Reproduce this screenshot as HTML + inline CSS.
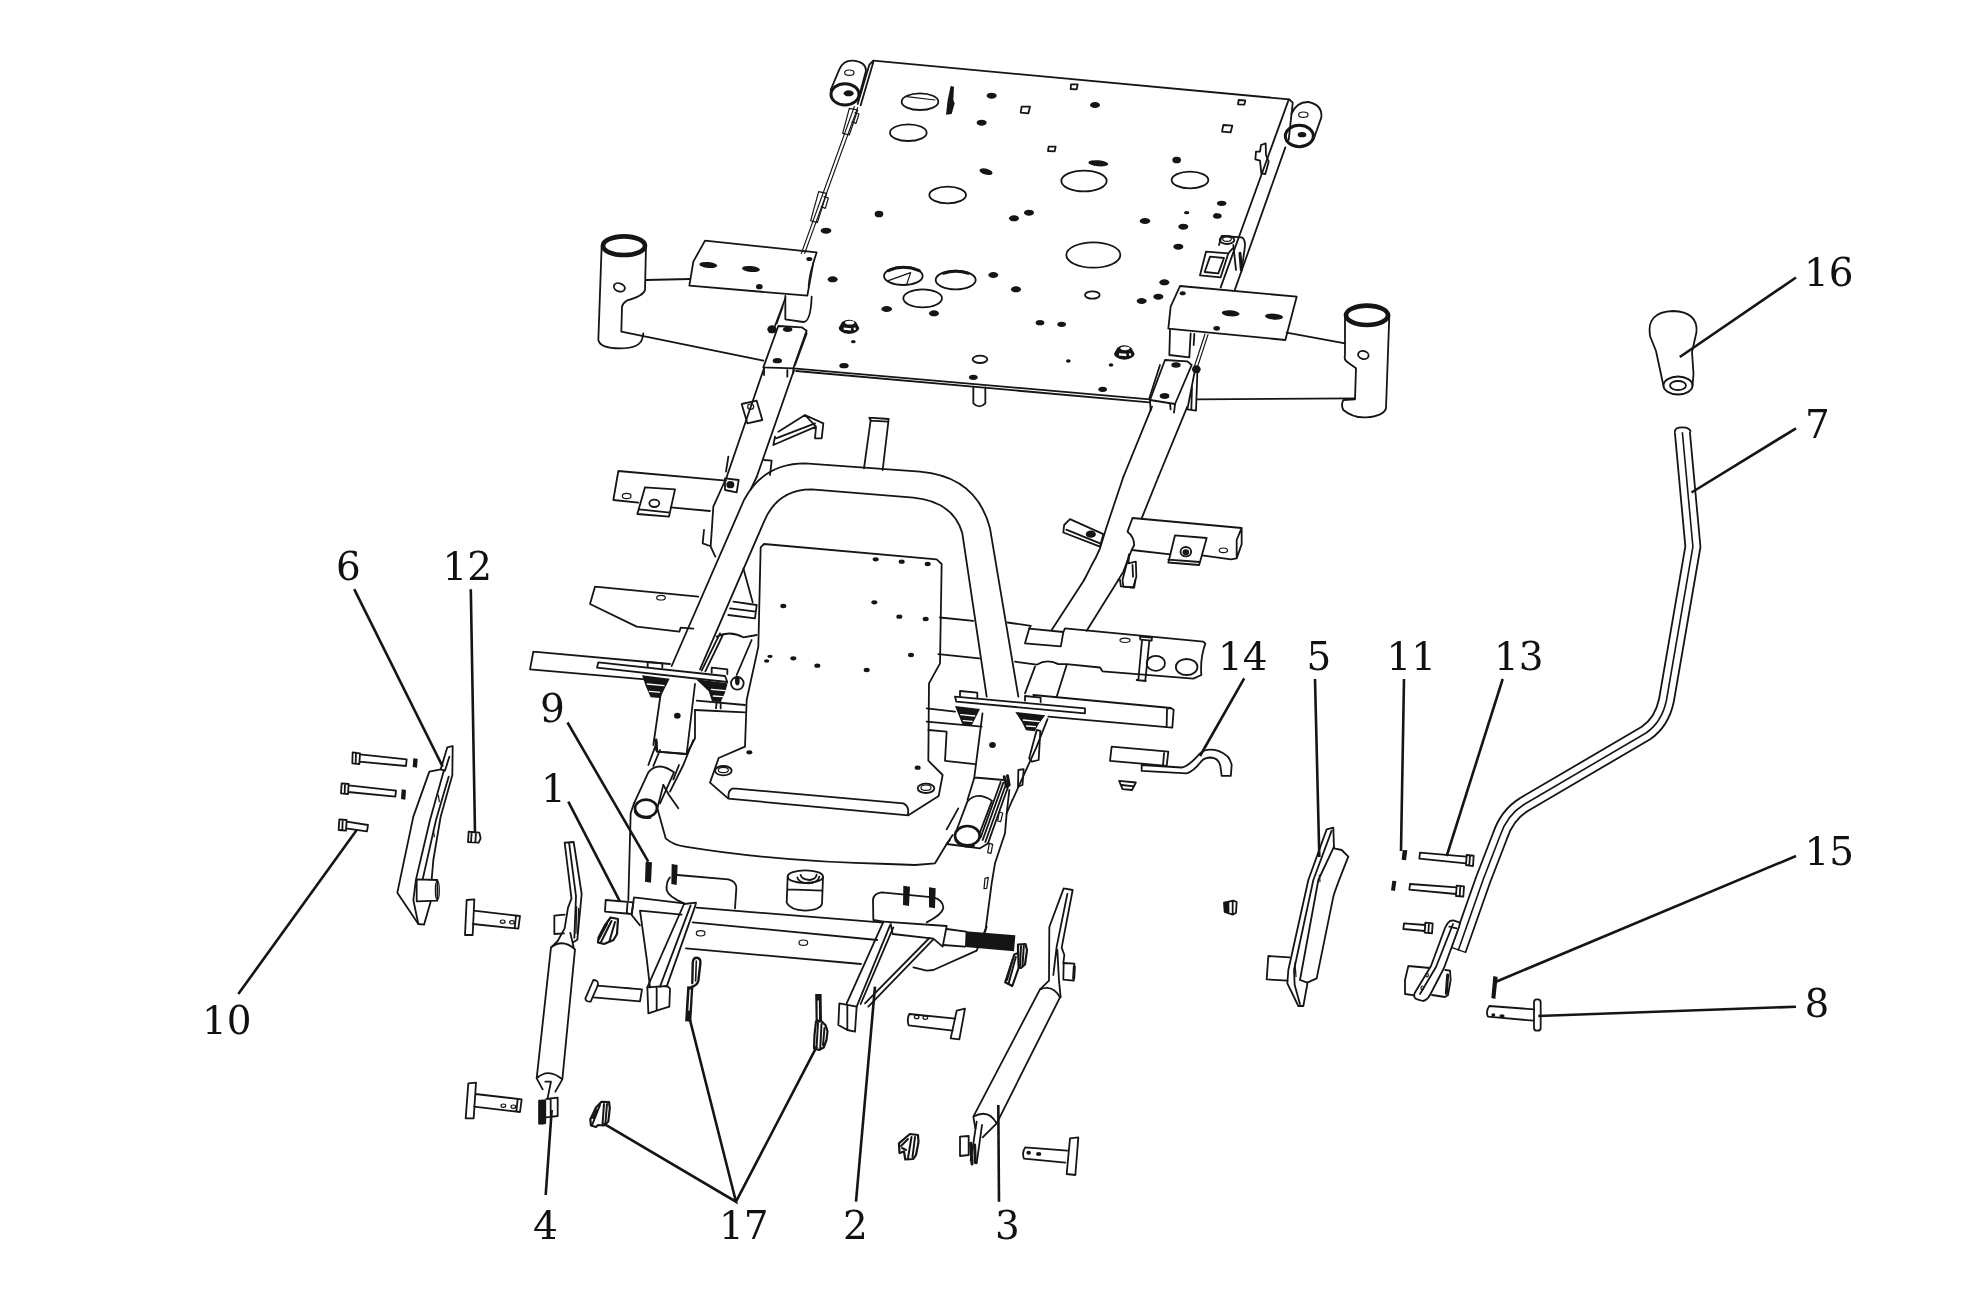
<!DOCTYPE html>
<html><head><meta charset="utf-8"><title>Frame assembly diagram</title>
<style>
html,body{margin:0;padding:0;background:#fff}
svg{display:block;will-change:transform;transform:translateZ(0)}
.l{fill:none;stroke:#151515;stroke-linecap:round;stroke-linejoin:round}
.f{fill:#151515;stroke:none}
.w{fill:#fff;stroke:#151515;stroke-linejoin:round}
.t{font-family:"DejaVu Serif","Liberation Serif",serif;font-size:39px;fill:#111}
.ld{stroke:#151515;stroke-width:2.6;fill:none;stroke-linecap:butt}
g.z3{stroke-width:5.4}
g.z3 .k{stroke-width:9}
g.z3 .n{stroke-width:3.6}
g.z6{stroke-width:10.8}
g.z6 .k{stroke-width:18}
g.z6 .n{stroke-width:7}
</style></head><body>
<svg width="1968" height="1312" viewBox="0 0 1968 1312">
<rect width="1968" height="1312" fill="#fff"/>
<!-- region A: top plate left/centre, left wing -->
<g class="z3 l" transform="translate(560,40) scale(0.333333)">
<!-- plate top edge (to far right corner) -->
<path d="M940,62 L2187,178"/>
<!-- left edge rod -->
<path d="M940,62 L928,74 L893,192 M940,66 L902,196"/>
<path class="n" d="M883,200 L724,640 M893,203 L734,640"/>
<path class="n" d="M868,205 L893,210 L868,285 L848,280 Z M885,218 L897,222 L888,250 L876,246"/>
<path class="n" d="M776,455 L800,460 L772,548 L752,542 Z M792,470 L805,474 L796,505 L784,500"/>
<!-- bushing top-left -->
<path d="M812,150 L838,88 Q850,60 880,62 Q918,66 918,92 L897,170"/>
<ellipse class="k" cx="855" cy="163" rx="42" ry="32"/>
<ellipse class="f" cx="866" cy="160" rx="15" ry="9"/>
<ellipse class="n" cx="868" cy="98" rx="14" ry="8"/>
<!-- big holes -->
<ellipse cx="1080" cy="185" rx="55" ry="25"/><path class="n" d="M1040,170 L1125,180"/>
<ellipse cx="1045" cy="278" rx="55" ry="25"/>
<ellipse cx="1163" cy="465" rx="55" ry="25"/>
<ellipse cx="1572" cy="423" rx="68" ry="31"/>
<ellipse cx="1890" cy="420" rx="55" ry="25"/>
<ellipse cx="1600" cy="645" rx="81" ry="38"/>
<ellipse cx="1030" cy="708" rx="58" ry="27"/><path class="k" d="M985,692 Q1030,672 1078,692"/><path class="n" d="M985,722 L1052,698 L1040,733"/>
<ellipse cx="1187" cy="720" rx="60" ry="28"/><path class="k" d="M1150,700 Q1187,688 1225,700"/>
<ellipse cx="1088" cy="775" rx="58" ry="27"/>
<ellipse cx="1597" cy="765" rx="22" ry="11"/>
<ellipse cx="1260" cy="958" rx="22" ry="11"/>
<!-- slot sliver -->
<path class="f" d="M1172,138 L1182,140 L1180,180 L1184,190 L1175,222 L1158,224 L1163,180 Z"/>
<!-- small square holes -->
<path d="M1533,133 L1553,133 L1550,148 L1532,147 Z M1385,200 L1410,200 L1405,220 L1382,218 Z M1466,320 L1487,320 L1484,334 L1464,333 Z"/>
<!-- dots -->
<g class="f">
<ellipse cx="1295" cy="167" rx="15" ry="9"/><ellipse cx="1265" cy="248" rx="15" ry="9"/><ellipse cx="1605" cy="195" rx="15" ry="9"/>
<ellipse cx="1278" cy="395" rx="20" ry="9" transform="rotate(15 1278 395)"/><ellipse cx="1615" cy="370" rx="30" ry="9" transform="rotate(5 1615 370)"/>
<ellipse cx="1850" cy="360" rx="13" ry="10"/><ellipse cx="957" cy="522" rx="13" ry="10"/><ellipse cx="798" cy="572" rx="16" ry="9"/>
<ellipse cx="1362" cy="535" rx="15" ry="9"/><ellipse cx="1407" cy="518" rx="15" ry="9"/><ellipse cx="1755" cy="543" rx="16" ry="9"/>
<ellipse cx="1870" cy="560" rx="15" ry="9"/><ellipse cx="1880" cy="518" rx="8" ry="5"/><ellipse cx="1855" cy="620" rx="15" ry="9"/>
<ellipse cx="818" cy="718" rx="15" ry="9"/><ellipse cx="1300" cy="705" rx="15" ry="9"/><ellipse cx="1368" cy="748" rx="15" ry="9"/>
<ellipse cx="1813" cy="727" rx="15" ry="9"/><ellipse cx="1795" cy="770" rx="15" ry="9"/><ellipse cx="1745" cy="783" rx="15" ry="9"/>
<ellipse cx="980" cy="807" rx="16" ry="9"/><ellipse cx="1122" cy="820" rx="15" ry="9"/><ellipse cx="1440" cy="848" rx="13" ry="8"/>
<ellipse cx="1505" cy="853" rx="13" ry="8"/><ellipse cx="880" cy="905" rx="7" ry="5"/><ellipse cx="852" cy="977" rx="14" ry="8"/>
<ellipse cx="1240" cy="1012" rx="13" ry="8"/><ellipse cx="1525" cy="963" rx="7" ry="5"/><ellipse cx="1653" cy="975" rx="7" ry="5"/>
<ellipse cx="1628" cy="1048" rx="13" ry="8"/><ellipse cx="1815" cy="1068" rx="13" ry="8"/>
<ellipse cx="1968" cy="525" rx="6" ry="5"/>
</g>
<!-- nuts -->
<g><path class="f" d="M846,846 Q867,832 888,846 L898,864 Q897,878 867,882 Q837,878 836,864 Z"/><ellipse cx="869" cy="848" rx="14" ry="5.5" fill="#fff" stroke="none"/><path d="M851,866 L873,868 M881,867 L887,866" stroke="#fff" stroke-width="7" stroke-linecap="butt"/></g>
<g><path class="f" d="M1672,923 Q1693,909 1714,923 L1724,941 Q1723,955 1693,959 Q1663,955 1662,941 Z"/><ellipse cx="1695" cy="925" rx="14" ry="5.5" fill="#fff" stroke="none"/><path d="M1677,943 L1699,945 M1707,944 L1713,943" stroke="#fff" stroke-width="7" stroke-linecap="butt"/></g>
<!-- plate bottom edge -->
<path d="M700,985 L1770,1078 M708,993 L1768,1087"/>
<!-- pin under plate -->
<path d="M1240,1040 L1240,1090 Q1258,1108 1276,1090 L1276,1042"/>
<!-- left wing cylinder -->
<ellipse cx="192" cy="617" rx="63" ry="28" stroke-width="14"/>
<path d="M125,617 L115,900 Q120,925 180,925 Q240,925 247,895 L250,880"/>
<path d="M258,617 L255,750 Q250,768 200,782 Q188,790 186,800 L184,875 L610,962"/>
<ellipse cx="178" cy="742" rx="17" ry="12" transform="rotate(20 178 742)"/>
<path d="M258,720 L390,717"/>
<!-- left bracket -->
<path d="M435,602 L770,637 L760,668 L742,767 L388,737 L400,665 Z"/>
<path class="n" d="M760,668 Q748,700 745,740"/>
<g class="f"><ellipse cx="445" cy="675" rx="27" ry="9" transform="rotate(5 445 675)"/><ellipse cx="573" cy="687" rx="27" ry="9" transform="rotate(5 573 687)"/><ellipse cx="598" cy="740" rx="10" ry="8"/><ellipse cx="748" cy="657" rx="9" ry="6"/></g>
<!-- tab under bracket -->
<path d="M676,768 L676,838 L730,846 Q752,846 755,770"/>
<path d="M676,775 L645,858 M668,800 L650,850"/>
<!-- left hinge bracket -->
<path d="M655,858 L725,862 L740,872 L700,985 L610,982 Z"/>
<path d="M740,880 L705,975 M612,985 L612,1005 M700,988 L700,1000 M682,990 L682,1010"/>
<g class="f"><ellipse cx="636" cy="868" rx="14" ry="12"/><ellipse cx="683" cy="868" rx="14" ry="8"/><ellipse cx="652" cy="962" rx="14" ry="8"/></g>
<!-- left rail going down -->
<path d="M612,985 L500,1311 M702,990 L590,1311"/>
<!-- small tab on rail -->
<path d="M545,1092 L590,1082 L607,1140 L562,1150 Z"/><ellipse class="n" cx="572" cy="1100" rx="9" ry="8"/>
<!-- bent bracket -->
<path d="M655,1175 L735,1125 L790,1150 L785,1195 L765,1195 L768,1160 L640,1215 M735,1125 L768,1160 M648,1195 L765,1150 M640,1215 L645,1190"/>
<!-- short post -->
<path d="M928,1133 L986,1137 L968,1290 M932,1140 L912,1285 M928,1133 L932,1142 L984,1145"/>
</g>
<!-- region B: top plate right, right wing -->
<g class="z3 l" transform="translate(1100,40) scale(0.333333)">
<!-- plate right edge -->
<path d="M568,178 L578,188 M565,182 L362,742 M578,190 L566,300 M556,322 L405,748"/>
<!-- bushing top-right -->
<path d="M574,222 Q590,185 625,186 Q668,195 664,232 L640,300"/>
<ellipse class="k" cx="598" cy="288" rx="42" ry="32"/>
<ellipse class="f" cx="606" cy="284" rx="13" ry="8"/>
<ellipse class="n" cx="610" cy="224" rx="14" ry="8"/>
<!-- square holes -->
<path d="M416,180 L436,181 L433,194 L414,193 Z M370,255 L397,257 L392,277 L366,275 Z"/>
<!-- clip -->
<path d="M483,315 L497,310 L498,345 L506,365 L496,402 L484,400 L480,362 L466,358 L468,335 L480,335 Z"/>
<g class="f"><ellipse cx="365" cy="490" rx="14" ry="8"/><ellipse cx="352" cy="528" rx="13" ry="8"/></g>
<!-- latch -->
<path d="M318,635 L385,640 L362,712 L300,706 Z M330,650 L372,654 L355,700 L314,696 Z"/>
<ellipse cx="381" cy="600" rx="22" ry="12"/><ellipse class="n" cx="381" cy="597" rx="13" ry="7"/>
<path d="M357,615 L365,588 L425,592 Q438,600 434,625 L425,690 M400,615 L408,690 M385,640 L398,625"/>
<path class="k" d="M420,640 L424,690"/>
<!-- right bracket -->
<path d="M240,738 L590,770 L556,900 L205,866 L212,800 Z"/>
<g class="f"><ellipse cx="392" cy="820" rx="27" ry="9" transform="rotate(5 392 820)"/><ellipse cx="522" cy="830" rx="27" ry="9" transform="rotate(5 522 830)"/><ellipse cx="248" cy="760" rx="9" ry="6"/><ellipse cx="350" cy="865" rx="10" ry="7"/></g>
<!-- tab below -->
<path d="M210,870 L208,945 L268,952 L272,880 M283,882 L281,915"/>
<!-- rod -->
<path class="n" d="M315,882 L283,980 M324,884 L292,982"/>
<ellipse class="f" cx="289" cy="988" rx="13" ry="12"/>
<path d="M283,1000 L262,1108 L288,1112 L292,1000 M276,1040 L274,1108"/>
<!-- right hinge -->
<path d="M195,960 L262,964 L275,975 L225,1092 L150,1080 Z"/>
<path d="M180,975 L148,1075 M150,1082 L152,1112 M225,1094 L222,1118 M210,1092 L212,1108"/>
<g class="f"><ellipse cx="228" cy="975" rx="14" ry="8"/><ellipse cx="193" cy="1068" rx="14" ry="8"/></g>
<!-- rails down -->
<path d="M156,1100 L70,1311 M262,1100 L175,1311"/>
<!-- arm -->
<path d="M560,878 L735,910 M290,1078 L765,1075"/>
<!-- right cylinder -->
<ellipse cx="801" cy="826" rx="63" ry="29" stroke-width="14"/>
<path d="M735,826 L735,945 Q730,960 745,968 L768,985 L765,1078 L730,1080 Q722,1095 730,1110 Q760,1135 800,1132 Q850,1128 858,1105 L868,826"/>
<ellipse cx="790" cy="945" rx="16" ry="12" transform="rotate(15 790 945)"/>
</g>
<!-- region C: hoop, seat plate, left brackets -->
<g class="z3 l" transform="translate(480,400) scale(0.333333)">
<!-- hoop -->
<path d="M575,798 L792,300 Q850,190 975,190 L1320,215 Q1490,230 1530,385 L1615,890"/>
<path d="M660,808 L852,365 Q892,268 995,268 L1300,293 Q1420,305 1447,400 L1520,890"/>
<!-- seat plate -->
<path d="M852,432 L1370,478 L1385,492 L1380,790 L1347,850 L1345,1082 L1388,1125 L1376,1188 L1285,1246 L745,1196 L690,1148 L716,1074 L795,1040 L800,900 L835,740 L842,442 Z"/>
<path d="M760,1165 L1270,1210 Q1290,1220 1283,1244 M760,1165 Q742,1170 746,1194"/>
<g class="f">
<ellipse cx="1187" cy="478" rx="9" ry="6.5"/><ellipse cx="1265" cy="485" rx="9" ry="6.5"/><ellipse cx="1343" cy="492" rx="9" ry="6.5"/>
<ellipse cx="910" cy="618" rx="9" ry="6.5"/><ellipse cx="1183" cy="607" rx="9" ry="6.5"/><ellipse cx="1258" cy="650" rx="9" ry="6.5"/><ellipse cx="1337" cy="657" rx="9" ry="6.5"/>
<ellipse cx="1293" cy="765" rx="9" ry="6.5"/><ellipse cx="870" cy="769" rx="8" ry="5"/><ellipse cx="860" cy="783" rx="8" ry="5"/><ellipse cx="940" cy="775" rx="9" ry="6.5"/>
<ellipse cx="1012" cy="797" rx="9" ry="6.5"/><ellipse cx="1160" cy="810" rx="9" ry="6.5"/><ellipse cx="808" cy="1057" rx="9" ry="6.5"/><ellipse cx="1313" cy="1103" rx="9" ry="6.5"/>
</g>
<ellipse cx="730" cy="1112" rx="25" ry="14"/><ellipse class="n" cx="730" cy="1110" rx="15" ry="8"/>
<ellipse cx="1338" cy="1165" rx="25" ry="14"/><ellipse class="n" cx="1338" cy="1163" rx="15" ry="8"/>
<!-- left rail lower end -->
<path d="M740,231 L700,320 L692,440 L706,470 M672,390 L668,430 L690,438 M830,231 L812,268"/>
<path d="M735,235 L776,240 L770,277 L735,270 Z"/><ellipse class="f" cx="751" cy="254" rx="12" ry="11"/>
<path d="M852,180 L875,182 L870,225 M745,170 L738,215"/>
<path d="M790,505 L818,607 M760,605 L830,615 L825,655 L745,645 M750,625 L828,635"/>
<path d="M710,710 Q750,690 790,712 L830,705 M720,700 L665,812 M730,702 L676,814 M815,720 L770,825"/>
<circle cx="772" cy="850" r="19"/><ellipse class="f" cx="772" cy="842" rx="7" ry="14"/>
<!-- left upper bracket -->
<path d="M415,213 L738,242 M415,213 L400,300 L475,308 M572,322 L690,333"/>
<path d="M495,262 L585,268 L567,350 L472,342 Z M478,328 L570,338"/>
<ellipse class="n" cx="440" cy="288" rx="13" ry="8"/><ellipse cx="523" cy="310" rx="15" ry="11"/>
<!-- left mid bracket -->
<path d="M345,560 L655,590 M345,560 L330,612 L470,680 L598,695 L602,683 L640,686"/>
<ellipse class="n" cx="543" cy="593" rx="13" ry="7"/>
<!-- left crossbar -->
<path d="M160,755 L570,792 M160,755 L150,808 L495,838"/>
<path d="M355,787 L735,828 L742,846 L351,803 Z"/>
<!-- left bolts -->
<path d="M503,786 L547,790 L547,803 M503,786 L503,800"/>
<path class="f" d="M486,826 L569,836 L556,862 L540,894 L512,892 L498,860 Z"/><path d="M502,852 L552,857 M508,874 L544,877" stroke="#fff" stroke-width="4"/>
<path d="M695,803 L742,808 L742,822 M695,803 L695,818"/>
<path class="f" d="M648,838 L743,850 L735,878 L722,906 L696,904 L686,874 Z"/><path d="M694,868 L736,872 M700,888 L728,890" stroke="#fff" stroke-width="4"/>
<path d="M710,906 L708,925 M722,906 L722,925"/>
<!-- left upright -->
<path d="M545,862 L520,1035 M645,852 L620,1062 M645,930 L645,1015 L620,1062 M530,1055 L615,1062"/>
<ellipse class="f" cx="592" cy="947" rx="10" ry="9"/>
<path d="M645,930 L795,937 M650,902 L795,915"/>
<!-- right flat bar + bolts -->
<path d="M1425,890 L1815,925 L1815,940 L1429,905 Z"/>
<path d="M1440,873 L1492,878 L1492,892 M1440,873 L1440,888"/>
<path class="f" d="M1425,918 L1500,927 L1486,955 L1474,978 L1448,975 L1438,950 Z"/><path d="M1442,944 L1484,948 M1450,962 L1476,964" stroke="#fff" stroke-width="4"/>
<path d="M1635,888 L1682,893 L1682,906 M1635,888 L1635,902"/>
<path class="f" d="M1606,936 L1696,946 L1676,972 L1664,994 L1638,991 L1626,967 Z"/><path d="M1630,960 L1678,965 M1640,978 L1666,980" stroke="#fff" stroke-width="4"/>
</g>
<!-- region E: right rail + right bracket (6x coords, offset 1000,380) -->
<g class="z6 l" transform="translate(1000,380) scale(0.1666667)">
<path d="M740,582 L640,880 L600,1010 Q575,1070 548,1115 L505,1200 M950,582 L850,830 M790,1020 L740,1150 L710,1200"/>
<path d="M795,828 L1450,888 L1450,985 L1420,1070 L1385,1076 L1212,1052 M795,828 L765,910 Q805,940 805,990 L790,1020 L1022,1046 M1420,1070 L1420,960 L1448,892"/>
<path d="M1050,932 L1240,948 L1195,1110 L1010,1095 Z M1010,1078 L1200,1092"/>
<ellipse cx="1115" cy="1030" rx="32" ry="28"/><ellipse class="f" cx="1115" cy="1034" rx="20" ry="18"/>
<ellipse class="n" cx="1340" cy="1022" rx="25" ry="14"/>
<path d="M420,835 L620,925 L600,1000 L380,915 L385,870 Z M398,898 L600,980"/>
<ellipse class="f" cx="545" cy="925" rx="30" ry="22"/>
<path d="M775,1045 L770,1100 L815,1090 L818,1180 L800,1245 L740,1240 L735,1200 Z M795,1110 L798,1180"/>
</g>
<!-- region D: right of seat (6x coords, offset 920,580) -->
<g class="z6 l" transform="translate(920,580) scale(0.1666667)">
<path d="M120,225 L320,245 M110,445 L355,470"/>
<!-- rear cross member right part -->
<path d="M525,255 L665,275 L655,292 L860,312 L870,290 L1700,370 L1712,382 Q1680,470 1688,570 L1640,592 L1095,548 L1080,525 L880,505 L830,505 Q765,470 700,508 L570,490"/>
<path d="M655,292 L630,380 L845,398 L860,312"/>
<path d="M1320,340 L1392,346 L1390,364 L1322,358 Z M1332,362 L1310,600 M1376,366 L1352,602 M1300,600 L1355,606"/>
<ellipse cx="1415" cy="500" rx="55" ry="45"/><ellipse cx="1600" cy="522" rx="65" ry="48"/>
<ellipse class="n" cx="1230" cy="362" rx="30" ry="13"/>
<!-- right rail lower -->
<path d="M985,0 L790,300 M1190,0 L1000,305 M1200,0 L1205,38 L1285,45 L1292,0"/>
<path d="M690,520 L630,680 M880,510 L820,700"/>
<!-- right crossbar -->
<path d="M680,690 L1505,768 L1522,778 L1514,886 L770,820 M1482,772 L1480,880 M1505,768 L1482,772"/>
<!-- right upright -->
<path d="M375,800 L325,1190 L285,1320 M765,835 L700,1000 L555,1320 M330,1185 L500,1200"/>
<ellipse class="f" cx="435" cy="990" rx="20" ry="18"/>
<path d="M40,770 L210,790 M40,850 L370,880 M50,900 L160,910 L150,1085 L330,1105"/>
<path d="M700,900 L722,905 L712,1080 L672,1090 L655,1070 Z M590,1140 L622,1135 L615,1230 L588,1240 Z"/>
<path class="k" d="M505,1180 L520,1240 M525,1175 L535,1230"/>
<!-- item 14 block and hook -->
<path d="M1150,1000 L1490,1030 L1480,1115 L1140,1085 Z M1465,1030 L1458,1112"/>
<path d="M1330,1110 L1570,1125 Q1610,1120 1680,1040 Q1720,1005 1790,1025 Q1860,1050 1870,1110 L1865,1175 L1810,1175 L1802,1115 Q1790,1068 1745,1065 Q1710,1065 1690,1085 Q1640,1150 1600,1160 L1330,1145 Z"/>
<path d="M1195,1205 L1295,1215 L1272,1260 L1215,1255 Z M1210,1230 L1285,1238"/>
</g>
<!-- region F: lower frame (3x coords, offset 560,740) -->
<g class="z3 l" transform="translate(560,740) scale(0.333333)">
<!-- U panel upper edge -->
<path d="M310,135 L292,205 L317,295 Q340,315 375,320 Q650,365 984,372 L1065,375 L1125,370 L1160,312 L1178,285"/>
<path d="M310,135 L327,165 L355,205"/>
<!-- left tube -->
<ellipse cx="258" cy="205" rx="33" ry="26" stroke-width="8"/><path class="k" d="M226,215 Q235,236 270,232"/>
<path d="M222,190 L265,97 Q295,62 342,97 L300,190"/>
<path d="M265,75 L290,8 M280,78 L300,30 M295,35 L380,42 M400,0 L370,75 L330,155 M357,75 L340,118"/>
<path class="k" d="M288,0 L290,30"/>
<path d="M222,190 L212,220 L205,480"/>
<!-- item 9 bars -->
<path class="f" d="M257,365 L276,367 L273,428 L255,425 Z M335,372 L353,375 L350,435 L334,432 Z"/>
<!-- left tab -->
<path d="M352,405 L505,418 Q530,425 529,445 L525,505 M330,412 Q318,425 320,450 Q325,470 372,490"/>
<!-- centre cylinder -->
<ellipse cx="736" cy="410" rx="53" ry="19"/>
<path d="M683,410 L680,488 Q690,510 735,512 Q780,510 786,492 L789,412 M684,448 L788,452"/>
<path d="M712,412 Q715,428 745,430 Q775,428 778,410 M722,405 Q725,418 748,420 Q768,418 770,404"/>
<!-- shaft left end and sleeve -->
<path d="M137,480 L220,487 L215,522 L135,515 Z M203,485 L200,520"/>
<path d="M222,472 L372,490 M222,472 L215,525 L240,556 M240,512 L365,524 M240,512 L260,655 L270,742"/>
<!-- left arm -->
<path d="M372,492 L408,488 L405,500 M372,492 L262,742 M392,496 L300,740 M405,500 L320,740"/>
<path d="M262,742 L322,738 L330,746 L328,800 L290,812 L265,820 Z M290,745 L290,812"/>
<!-- beam -->
<path d="M410,503 L970,548 M398,547 L952,600 M378,625 L903,672"/>
<ellipse class="n" cx="422" cy="580" rx="13" ry="8"/><ellipse class="n" cx="730" cy="608" rx="13" ry="8"/>
<!-- right tab with pins -->
<path d="M965,457 L1120,472 Q1150,480 1150,505 Q1145,525 1100,547 M965,457 Q940,460 939,480 L940,540 L970,545"/>
<path class="f" d="M1030,437 L1050,440 L1047,498 L1029,495 Z M1107,442 L1127,445 L1125,505 L1107,502 Z"/>
<!-- right arm top + shaft -->
<path d="M970,545 L1160,558 L1148,620 L1120,596 L998,582 L992,552"/>
<path d="M1160,567 L1218,575 M1150,615 L1215,620"/>
<path class="f" d="M1217,574 L1366,586 L1362,634 L1215,621 Z"/>
<path d="M968,550 L860,790 M990,556 L890,800 M1000,562 L902,792"/>
<path d="M838,790 L890,800 L885,875 L862,870 L835,855 Z M862,795 L862,870"/>
<path d="M1120,598 L925,800 M1108,594 L915,790"/>
<!-- lower right body -->
<path d="M1060,682 L1100,692 L1120,690 L1250,632 L1280,560"/>
<!-- right tube -->
<ellipse cx="1222" cy="287" rx="37" ry="29" stroke-width="8"/><path class="k" d="M1188,300 Q1200,322 1240,318"/>
<path d="M1190,270 L1222,185 Q1250,152 1296,182 L1258,282"/>
<path d="M1160,268 L1195,205 M1170,300 L1160,312 L1260,325 L1285,310"/>
<path d="M1330,128 L1268,300 M1338,132 L1276,306 M1345,138 L1284,310 M1322,126 L1262,292"/>
<path d="M1348,150 L1340,220"/>
<!-- right body side -->
<path d="M1357,180 L1340,220 L1335,280 L1305,370 L1295,430 L1276,575"/>
<path class="n" d="M1318,215 L1328,220 L1322,245 L1313,243 Z M1288,310 L1298,313 L1293,340 L1283,338 Z M1275,415 L1285,412 L1280,445 L1272,446 Z"/>
</g>
<!-- region G: left exploded parts (3x coords, offset 200,720) -->
<g class="z3 l" transform="translate(200,720) scale(0.333333)">
<!-- bolts item 10 -->
<path d="M458,97 L480,100 L478,132 L457,130 Z M480,103 L620,118 L618,138 L478,125 M468,98 L467,131"/>
<path class="f" d="M640,115 L653,116 L651,143 L638,141 Z"/>
<path d="M425,190 L446,192 L444,222 L423,220 Z M446,196 L588,212 L586,230 L444,216 M435,191 L434,221"/>
<path class="f" d="M605,208 L618,210 L616,239 L603,237 Z"/>
<path d="M418,298 L440,300 L438,332 L416,330 Z M440,305 L504,315 L501,334 L438,325 M428,299 L427,331"/>
<!-- bracket item 6 -->
<path d="M742,82 L758,78 L757,165 L722,290 L700,420 L695,478 M742,82 L722,148 L688,155 L640,290 L592,518 L655,612 L672,614 L692,545"/>
<path d="M732,150 L690,300 L648,478 M746,170 L708,300 L668,478 M722,148 L735,152 L748,110 M655,612 L640,540 L648,478"/>
<path d="M650,478 L712,480 L712,542 L650,544 Z"/><ellipse class="n" cx="712" cy="511" rx="6" ry="28"/>
<path class="n" d="M715,225 L718,245 M700,330 L703,350"/>
<!-- nut item 12 -->
<path d="M806,335 L838,338 L842,355 L836,368 L804,366 Z M815,337 L813,367 M828,338 L826,368"/>
<!-- clevis pins -->
<path d="M800,540 L823,538 L818,645 L795,645 Z M821,572 L960,588 L955,626 L818,612 M948,587 L944,625"/>
<ellipse class="n" cx="908" cy="605" rx="7" ry="5"/><ellipse class="n" cx="936" cy="607" rx="7" ry="5"/>
<path d="M805,1090 L828,1088 L821,1195 L797,1195 Z M826,1122 L965,1138 L960,1176 L822,1160 M953,1137 L949,1175"/>
<ellipse class="n" cx="910" cy="1157" rx="7" ry="5"/><ellipse class="n" cx="940" cy="1160" rx="7" ry="5"/>
<!-- cylinder item 4 -->
<path d="M1094,368 L1121,366 L1145,522 L1132,659 L1121,666 M1094,368 L1114.5,536 L1104,563 L1094,625 L1073,663 L1056,680 M1107.6,371 L1128,529 L1123,653 M1111,639 L1121,682"/>
<path d="M1094,584 L1063,587 L1063,642 L1092,640"/>
<path class="n" d="M1130,560 L1128,640 M1136,565 L1133,640"/>
<path d="M1053,682 Q1088,655 1125,688 L1087,1078 M1053,682 L1010,1075 Q1045,1042 1087,1078 M1010,1075 L1028,1108 M1087,1078 L1066,1115"/>
<path d="M1036,1085 L1053,1085 L1042,1138 M1039,1137 L1073,1133 L1073,1188 L1039,1192 M1052,1137 L1052,1190"/>
<path class="k" d="M1019,1143 L1019,1210 M1027,1142 L1027,1210 M1034,1142 L1034,1208"/>
<!-- pin -->
<path d="M1180,780 Q1196,780 1194,795 L1172,845 Q1158,846 1156,836 Z M1192,797 L1326,808 L1320,844 L1180,832"/>
<path class="n" d="M1270,803 L1295,806"/>
</g>
<!-- region F exploded parts (3x coords, offset 560,740) -->
<g class="z3 l" transform="translate(560,740) scale(0.333333)">
<!-- pin right -->
<path d="M1048,822 L1186,836 M1046,856 L1178,872 M1048,822 Q1040,838 1046,856"/>
<path d="M1190,812 L1215,806 L1198,898 L1172,895 Z"/>
<ellipse class="n" cx="1070" cy="831" rx="7" ry="5"/><ellipse class="n" cx="1096" cy="833" rx="7" ry="5"/>
<!-- cylinder item 3 -->
<path d="M1511,445 L1538,450 L1505,623 L1513,645 L1510,669 M1511,445 L1468,561 L1467,722 L1440,748 M1522,462 L1490,620 L1480,705 M1492,630 L1497,722 L1502,772"/>
<path d="M1511,669 L1543,671 L1541,722 L1510,719 Z"/><path class="k" d="M1543,680 L1541,715"/>
<path d="M1440,748 Q1478,732 1500,772 L1310,1150 Q1285,1105 1240,1130 Z M1240,1130 L1246,1165 M1310,1150 L1268,1192"/>
<path d="M1250,1145 L1232,1262 M1266,1155 L1250,1270"/>
<path d="M1200,1190 L1226,1188 L1226,1245 L1200,1248 Z"/>
<path class="k" d="M1232,1210 L1236,1272 M1244,1215 L1246,1268"/>
<!-- pin bottom right -->
<path d="M1396,1222 L1522,1232 M1392,1256 L1516,1268 M1396,1222 Q1385,1238 1392,1256"/>
<path d="M1530,1195 L1555,1192 L1546,1305 L1520,1302 Z"/>
<ellipse class="f" cx="1406" cy="1238" rx="7" ry="6"/><ellipse class="f" cx="1436" cy="1242" rx="8" ry="6"/>
</g>
<!-- lever item 7 (source coords) -->
<g fill="none" stroke-linejoin="round" stroke-linecap="butt">
<path d="M1682.3,431.5 L1692.9,546.7 L1666.5,700 Q1662,722 1646,733 L1524,804.5 Q1507,815 1500,836 L1483,880 L1458.2,950.5" stroke="#151515" stroke-width="16.8"/>
<path d="M1682.2,429 L1682.3,431.5 L1692.9,546.7 L1666.5,700 Q1662,722 1646,733 L1524,804.5 Q1507,815 1500,836 L1483,880 L1458.7,949.2" stroke="#fff" stroke-width="13.2"/>
<path d="M1682.3,431.5 L1692.9,546.7 L1666.5,700 Q1662,722 1646,733 L1524,804.5 Q1507,815 1500,836 L1483,880 L1458.2,950.5" stroke="#151515" stroke-width="1.6"/>
<path d="M1674.8,432.5 Q1674.5,427.3 1682.3,427.3 Q1690.2,427.3 1690.6,432" stroke="#151515" stroke-width="1.8" fill="#fff"/>
</g>
<!-- knob item 16 -->
<g class="l" stroke-width="1.8">
<path d="M1650,336 Q1646,312 1673,311 Q1698,312 1696.5,332 L1692,352 L1693.5,374 L1692.5,386 M1650,336 L1656,351 L1663.5,386"/>
<ellipse cx="1678" cy="385.5" rx="14.5" ry="9"/><ellipse cx="1678" cy="385.5" rx="8" ry="4.5"/>
</g>
<!-- region H: right exploded parts (3x coords, offset 1200,780) -->
<g class="z3 l" transform="translate(1200,780) scale(0.333333)">
<!-- nut -->
<path d="M72,368 L100,362 L110,366 L108,398 L98,404 L74,396 Z M84,366 L85,399 M98,363 L98,403"/><path class="f" d="M72,368 L88,365 L88,399 L74,396 Z"/>
<!-- bracket item 5 -->
<path d="M380,148 L400,143 L402,205 L425,210 L445,230 Q405,330 400,350 L350,595 L322,608 M380,148 L325,300 L265,570 L262,610 L295,678 L310,678 L322,612"/>
<path d="M395,152 L340,300 L282,570 L284,615 L300,672 M402,200 L355,300 L300,600 M300,600 L322,608"/>
<path d="M268,532 L205,528 L200,598 L262,602"/>
<path class="n" d="M358,285 L360,305 M285,548 L288,590"/>
<!-- nuts item 11 -->
<path class="f" d="M608,210 L622,211 L618,241 L605,239 Z M577,302 L589,303 L585,333 L573,331 Z"/>
<!-- bolts item 13 -->
<path d="M660,218 L800,230 L798,250 L658,236 Z M800,225 L821,227 L819,258 L798,255 Z M810,226 L808,256"/>
<path d="M630,312 L770,322 L768,342 L628,329 Z M770,317 L792,319 L790,350 L768,348 Z M781,318 L779,349"/>
<path d="M612,430 L676,435 L674,453 L610,447 Z M676,428 L698,430 L696,460 L674,458 Z M687,429 L685,459"/>
<!-- lever lower bracket -->
<path d="M625,558 L690,564 M625,558 L615,600 L615,642 L644,646 M736,570 L750,572 L752,600 L744,645 L735,651 L696,645"/>
<path class="k" d="M743,585 L739,640"/>
<path class="w" d="M750,423 Q740,430 735,444 L693,558 L644,639 Q638,655 654,659 L669,663 Q682,660 690,645 L732,564 L777,441 L780,428 L760,421 Z"/>
<path d="M759,432 L708,561 L660,642 M748,440 L770,445"/>
<ellipse class="n" cx="681" cy="585" rx="4" ry="6"/><ellipse class="n" cx="667" cy="624" rx="4" ry="6"/>
<!-- item 15 -->
<path class="f" d="M880,588 L893,591 L886,657 L874,654 Z"/>
<!-- pin item 8 -->
<path d="M868,678 L1002,688 M864,710 L1000,722 M868,678 Q856,694 864,710"/>
<rect x="1002" y="658" width="20" height="94" rx="9"/>
<ellipse class="f" cx="880" cy="705" rx="6" ry="5"/><ellipse class="f" cx="906" cy="708" rx="8" ry="5"/>
</g>
<!-- clips and hairpins (source coords) -->
<g stroke-linecap="round" stroke-linejoin="round">
<g fill="#fff" stroke="#151515" stroke-width="2.2">
<path d="M610.6,917.5 L618,919 L617,934 L613.5,940 L604,944 L598,942.5 L598.5,937.5 L604.5,926 Z"/>
<path d="M601.5,1101.8 L609,1102 L609.8,1108 L608.3,1121.5 L604,1125.5 L598,1125 L596,1127 L591,1125.5 L590.3,1119.5 L596,1107.5 Z"/>
<path d="M909.9,1134 L918,1135 L918.5,1142 L916,1155 L913.3,1159 L905.3,1159.5 L904,1151.5 L899.5,1153 L898.9,1143.3 Z"/>
<path d="M1018,944.5 L1025.5,944 L1027,950 L1025,964.5 L1021,968 L1018,967.5 Z"/>
<path d="M1014.3,954.5 L1018.2,953 L1018.6,968 L1012.3,986 L1005.2,982.3 Z"/>
<path d="M816,1021.5 L821.8,1021.5 L825.5,1025.2 L827.5,1031 L826.5,1040 L823.7,1047.5 L819,1050 L814,1048.2 L814.5,1035 Z"/>
</g>
<g fill="none" stroke="#151515" stroke-width="2">
<path d="M611.5,921 L601,942 M615,922 L609.5,941 M607,924 L599,939"/>
<path d="M600,1105 L592.5,1124 M604,1104 L602.5,1124 M607,1104 L605.5,1122 M597,1110 L593,1118"/>
<path d="M908,1139 L901,1146 M911.5,1137 L908,1158 M915,1137 L912.5,1157 M902,1148 L906,1150"/>
<path d="M1021,946 L1020,966 M1023.8,946 L1022.5,966 M1015.8,957 L1008.5,984 M1012.5,960 L1007,980"/>
<path d="M818,1023 L816.5,1048 M821.5,1024 L820.2,1049 M824.5,1028 L823,1045"/>
</g>
<g fill="none" stroke="#151515">
<path d="M692.3,983 L692.8,962 Q693.5,957.6 697,957.8 Q700.8,958.3 700.4,963 L698.3,981 Q697,985.5 691.5,987" stroke-width="2.4"/>
<path d="M696.3,961 L695.6,981" stroke-width="1.6"/>
<path d="M690.3,986.5 L688.2,1021.5" stroke-width="6.2" stroke-linecap="butt"/>
<path d="M818.4,994 L818.8,1021" stroke-width="6.4" stroke-linecap="butt"/>
</g>
<g fill="none" stroke="#fff" stroke-width="1.3">
<path d="M690.2,990 L689,1010"/>
<path d="M818.2,1001 L818.4,1019"/>
</g>
</g>
<!-- leader lines -->
<g class="ld">
<path d="M1796,277.5 L1679.8,357"/>
<path d="M1796,428.3 L1691.5,492.5"/>
<path d="M354.2,589.2 L442.7,766.7"/>
<path d="M470.8,589.2 L475,833.3"/>
<path d="M1244.2,678.3 L1200,756"/>
<path d="M1315,679 L1319.3,857"/>
<path d="M1404,679 L1401,851"/>
<path d="M1502.7,679 L1446.7,856"/>
<path d="M567.5,722.5 L648.3,861.7"/>
<path d="M568.3,801.7 L620,901.7"/>
<path d="M1796,856 L1496,981.7"/>
<path d="M1796,1006.7 L1538.3,1016"/>
<path d="M238.3,994 L356.7,830"/>
<path d="M551.7,1110 L545.7,1195"/>
<path d="M603.3,1123.3 L736,1201.7 L688.3,1013.3 M736,1201.7 L816.7,1046.7"/>
<path d="M875,986.7 L856,1201.7"/>
<path d="M998.3,1105 L999,1201.7"/>
</g>
<!-- labels -->
<g class="t">
<text x="1804" y="286">16</text>
<text x="1805" y="437.7">7</text>
<text x="336" y="580">6</text>
<text x="442.5" y="580">12</text>
<text x="1218" y="669.5">14</text>
<text x="1306.5" y="669.5">5</text>
<text x="1386.5" y="669.5">11</text>
<text x="1494" y="669.5">13</text>
<text x="540" y="722">9</text>
<text x="541" y="802">1</text>
<text x="1804.5" y="864.5">15</text>
<text x="1804.5" y="1017">8</text>
<text x="202" y="1034">10</text>
<text x="533" y="1239">4</text>
<text x="719" y="1239">17</text>
<text x="843" y="1239">2</text>
<text x="995" y="1239">3</text>
</g>
</svg>
</body></html>
